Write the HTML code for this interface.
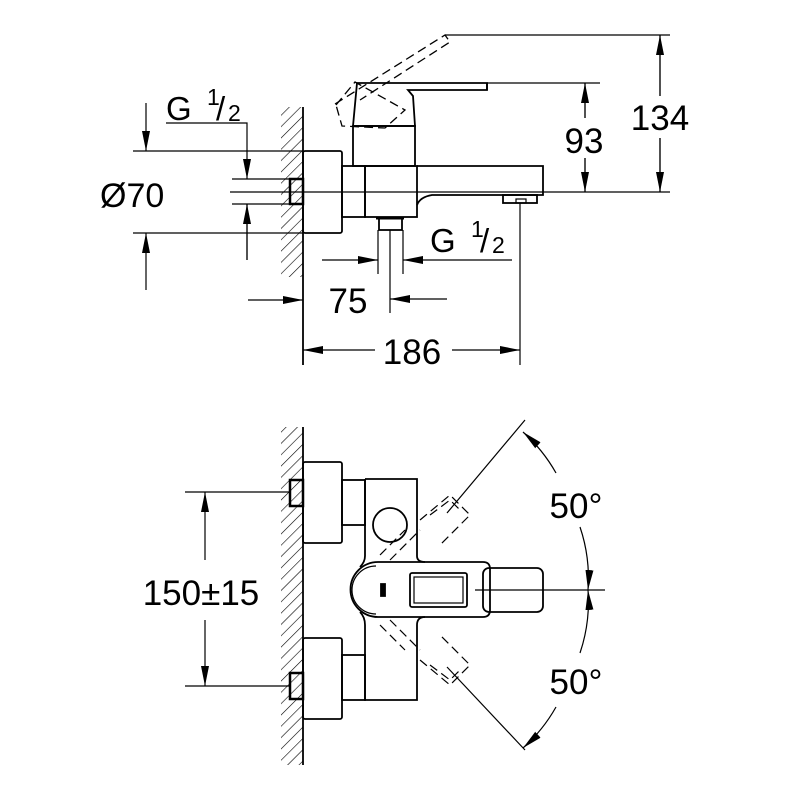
<!DOCTYPE html>
<html><head><meta charset="utf-8"><style>html,body{margin:0;padding:0;background:#fff}svg{display:block}</style></head>
<body>
<svg width="800" height="800" viewBox="0 0 800 800" xmlns="http://www.w3.org/2000/svg">
<defs>
<pattern id="h" width="8" height="8" patternUnits="userSpaceOnUse" patternTransform="rotate(45)">
<line x1="0" y1="0" x2="0" y2="8" stroke="#000" stroke-width="1.2"/>
</pattern>
<marker id="a" viewBox="0 0 20 8" refX="20" refY="4" markerWidth="20" markerHeight="8" markerUnits="userSpaceOnUse" orient="auto"><path d="M0,0 L20,4 L0,8 Z" fill="#000"/></marker>
</defs>
<g font-family="Liberation Sans, Arial, sans-serif" fill="#000">
<!-- TOP VIEW -->
<rect x="281" y="107" width="22" height="170" fill="url(#h)"/>
<line x1="303" y1="107" x2="303" y2="365" stroke="#000" stroke-width="1.8"/>
<g fill="none" stroke="#000" stroke-width="1.8">
<rect x="303" y="151" width="39" height="82" rx="2"/>
<rect x="290" y="179" width="13" height="25" stroke-width="2.5"/>
<rect x="342" y="166" width="23" height="51"/>
<rect x="365" y="166" width="52" height="51"/>
<path d="M417,166 H543 V195 H432 Q420,197 417,205"/>
<rect x="503" y="195" width="34" height="8"/>
<rect x="516" y="199" width="10" height="4" stroke-width="1.2"/>
<rect x="353" y="126" width="62" height="40"/>
<path d="M357,83 H487 V90 H408 L413,96 L415,126 H353 Z"/>
<line x1="487" y1="83" x2="487" y2="90"/>
<rect x="379" y="218" width="23" height="12"/>
<line x1="376" y1="218" x2="404" y2="218" stroke-width="3"/>
</g>
<g fill="none" stroke="#000" stroke-width="1.3" stroke-dasharray="9,5">
<path d="M335,104 L445,35 L450,42 L360,100"/>
<path d="M336,105 L355,82 L405,110 L385,128 L342,126 Z"/>
</g>
<g stroke="#000" stroke-width="1.2">
<line x1="445" y1="35" x2="670" y2="35"/>
<line x1="487" y1="83" x2="600" y2="83"/>
<line x1="230" y1="192" x2="670" y2="192"/>
<line x1="585" y1="192" x2="585" y2="83" marker-end="url(#a)"/>
<line x1="585" y1="83" x2="585" y2="192" marker-end="url(#a)"/>
<line x1="660" y1="192" x2="660" y2="35" marker-end="url(#a)"/>
<line x1="660" y1="35" x2="660" y2="192" marker-end="url(#a)"/>
<line x1="133" y1="151" x2="303" y2="151"/>
<line x1="133" y1="233" x2="303" y2="233"/>
<line x1="146" y1="103" x2="146" y2="151" marker-end="url(#a)"/>
<line x1="146" y1="290" x2="146" y2="233" marker-end="url(#a)"/>
<line x1="232" y1="179" x2="290" y2="179"/>
<line x1="232" y1="204" x2="290" y2="204"/>
<polyline points="166,123 247,123 247,179" fill="none" marker-end="url(#a)"/>
<line x1="247" y1="260" x2="247" y2="204" marker-end="url(#a)"/>
<line x1="247" y1="204" x2="247" y2="260"/>
<line x1="248" y1="300" x2="303" y2="300" marker-end="url(#a)"/>
<line x1="447" y1="299" x2="390" y2="299" marker-end="url(#a)"/>
<line x1="390" y1="230" x2="390" y2="313"/>
<line x1="378" y1="230" x2="378" y2="274"/>
<line x1="403" y1="230" x2="403" y2="274"/>
<line x1="322" y1="260" x2="378" y2="260" marker-end="url(#a)"/>
<line x1="512" y1="260" x2="403" y2="260" marker-end="url(#a)"/>
<line x1="520" y1="203" x2="520" y2="365"/>
<line x1="375" y1="350" x2="303" y2="350" marker-end="url(#a)"/>
<line x1="452" y1="350" x2="520" y2="350" marker-end="url(#a)"/>
</g>
<rect x="562" y="118" width="46" height="40" fill="#fff"/>
<rect x="626" y="96" width="68" height="42" fill="#fff"/>
<text x="584" y="153" font-size="35" text-anchor="middle">93</text>
<text x="660" y="130" font-size="35" text-anchor="middle">134</text>
<text x="166" y="120" font-size="33">G</text><text x="207" y="105" font-size="23">1</text><text x="216" y="120" font-size="33">/</text><text x="228" y="121" font-size="23">2</text>
<text x="100" y="207" font-size="34">Ø70</text>
<text x="430" y="252" font-size="33">G</text><text x="471" y="237" font-size="23">1</text><text x="480" y="252" font-size="33">/</text><text x="492" y="253" font-size="23">2</text>
<text x="348" y="313" font-size="35" text-anchor="middle">75</text>
<text x="412" y="364" font-size="35" text-anchor="middle">186</text>

<!-- BOTTOM VIEW -->
<rect x="281" y="427" width="22" height="338" fill="url(#h)"/>
<line x1="303" y1="427" x2="303" y2="765" stroke="#000" stroke-width="1.8"/>
<g fill="none" stroke="#000" stroke-width="1.8">
<rect x="303" y="462" width="39" height="81" rx="2"/>
<rect x="303" y="638" width="39" height="81" rx="2"/>
<rect x="290" y="480" width="13" height="26" stroke-width="2.5"/>
<rect x="290" y="673" width="13" height="26" stroke-width="2.5"/>
<rect x="342" y="480" width="23" height="45"/>
<rect x="342" y="655" width="23" height="45"/>
<path d="M365,479 H417 V556 Q417,562 425,562 M425,617 Q417,617 417,625 V700 H365 V625 Q365,617 360,612 M360,567 Q365,562 365,556 V479"/>
<circle cx="390" cy="525" r="17"/>
<path d="M483,562 H378 A27.5,27.5 0 0 0 378,617 H483 Q490,617 490,610 V569 Q490,562 483,562 Z"/>
<path d="M376,566 A24,24 0 0 0 376,614" stroke-width="1.2"/>
<rect x="483" y="568" width="60" height="44" rx="6"/>
<rect x="410" y="573" width="57" height="34" rx="2"/>
<rect x="414" y="577" width="49" height="26" stroke-width="1.2"/>
<path d="M381,584 h4 v12 h-4 z" fill="#000"/>
</g>
<g fill="none" stroke="#000" stroke-width="1.2" stroke-dasharray="9,5">
<path d="M420,520 L450,495 L470,515 L440,545"/>
<path d="M430,515 L450,500 L462,512"/>
<path d="M420,660 L450,685 L470,665 L440,635"/>
<path d="M430,665 L450,680 L462,668"/>
<path d="M380,555 L405,530 M390,560 L410,540 M400,550 L420,530"/>
<path d="M380,625 L405,650 M390,620 L410,640 M400,630 L420,650"/>
</g>
<g stroke="#000" stroke-width="1.2" fill="none">
<line x1="475" y1="590" x2="605" y2="590"/>
<line x1="447" y1="513" x2="525" y2="420"/>
<line x1="447" y1="667" x2="525" y2="750"/>
<path d="M556,473 A160,160 0 0 0 523,432" marker-end="url(#a)"/>
<path d="M580,527 A160,160 0 0 1 588,590" marker-end="url(#a)"/>
<path d="M580,653 A160,160 0 0 0 588,590" marker-end="url(#a)"/>
<path d="M556,707 A160,160 0 0 1 523,748" marker-end="url(#a)"/>
<line x1="185" y1="492" x2="290" y2="492"/>
<line x1="185" y1="686" x2="290" y2="686"/>
<line x1="205" y1="560" x2="205" y2="492" marker-end="url(#a)"/>
<line x1="205" y1="620" x2="205" y2="686" marker-end="url(#a)"/>
</g>
<text x="576" y="518" font-size="35" text-anchor="middle">50°</text>
<text x="576" y="694" font-size="35" text-anchor="middle">50°</text>
<text x="201" y="605" font-size="35" text-anchor="middle">150±15</text>
</g>
</svg>
</body></html>
